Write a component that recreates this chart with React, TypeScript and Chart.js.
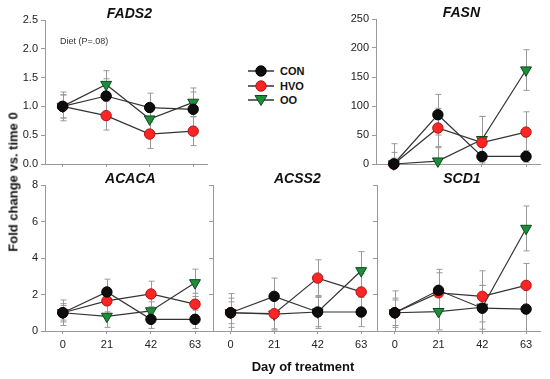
import React, { useEffect, useRef } from 'react';
import { Chart, registerables } from 'chart.js';
Chart.register(...registerables);

const FONT = '"Liberation Sans", Arial, Helvetica, sans-serif';

const days = [0, 21, 42, 63];
const dayLabels = ['0', '21', '42', '63'];
const seriesNames = ['CON', 'HVO', 'OO'];

// FADS2
const fads2Con = [1.0, 1.18, 0.98, 0.95];
const fads2Hvo = [1.0, 0.84, 0.52, 0.57];
const fads2Oo = [1.0, 1.38, 0.78, 1.07];
const fads2ConErr = [0.25, 0.3, 0.25, 0.3];
const fads2HvoErr = [0.2, 0.25, 0.25, 0.25];
const fads2OoErr = [0.2, 0.24, 0.2, 0.25];

// FASN
const fasnCon = [0, 85, 13, 13];
const fasnHvo = [0, 62, 37, 55];
const fasnOo = [0, 5, 42, 162];
const fasnConErr = [35, 35, 20, 10];
const fasnHvoErr = [20, 34, 45, 35];
const fasnOoErr = [10, 25, 40, 35];

// ACACA
const acacaCon = [1.0, 2.14, 0.64, 0.64];
const acacaHvo = [1.0, 1.65, 2.03, 1.47];
const acacaOo = [1.0, 0.8, 1.1, 2.64];
const acacaConErr = [0.7, 0.7, 0.5, 0.5];
const acacaHvoErr = [0.5, 0.6, 0.7, 0.6];
const acacaOoErr = [0.4, 0.6, 0.5, 0.75];

// ACSS2
const acss2Con = [1.0, 1.9, 1.04, 1.04];
const acss2Hvo = [1.0, 0.95, 2.9, 2.14];
const acss2Oo = [1.0, 0.92, 1.04, 3.3];
const acss2ConErr = [1.05, 1.0, 0.8, 0.8];
const acss2HvoErr = [0.8, 0.9, 1.0, 1.0];
const acss2OoErr = [0.6, 0.8, 0.9, 1.05];

// SCD1
const scd1Con = [1.0, 2.23, 1.25, 1.2];
const scd1Hvo = [1.0, 2.09, 1.9, 2.5];
const scd1Oo = [1.0, 1.06, 1.3, 5.62];
const scd1ConErr = [1.2, 1.15, 1.25, 1.2];
const scd1HvoErr = [0.8, 1.1, 1.4, 1.2];
const scd1OoErr = [0.7, 1.0, 1.2, 1.23];

const seriesStyles = [
  { fill: '#0d0d0d', stroke: '#000000', style: 'circle', radius: 5.2, rotation: 0 },
  { fill: '#fb2525', stroke: '#b01515', style: 'circle', radius: 5.2, rotation: 0 },
  { fill: '#1c8f3a', stroke: '#0d4a1c', style: 'triangle', radius: 6.3, rotation: 180 },
];

type Panel = {
  title: string;
  rect: { left: number; top: number; right: number; bottom: number };
  yMin: number;
  yMax: number;
  yStep: number;
  decimals: number;
  showY: boolean;
  showX: boolean;
  values: number[][];
  errors: number[][];
  note?: string;
};

const panels: Panel[] = [
  {
    title: 'FADS2', rect: { left: 45, top: 20, right: 209, bottom: 164 },
    yMin: 0, yMax: 2.5, yStep: 0.5, decimals: 1, showY: true, showX: false,
    values: [fads2Con, fads2Hvo, fads2Oo], errors: [fads2ConErr, fads2HvoErr, fads2OoErr],
    note: 'Diet (P=.08)',
  },
  {
    title: 'FASN', rect: { left: 376, top: 19, right: 542, bottom: 164 },
    yMin: 0, yMax: 250, yStep: 50, decimals: 0, showY: true, showX: false,
    values: [fasnCon, fasnHvo, fasnOo], errors: [fasnConErr, fasnHvoErr, fasnOoErr],
  },
  {
    title: 'ACACA', rect: { left: 45, top: 185, right: 211, bottom: 331 },
    yMin: 0, yMax: 8, yStep: 2, decimals: 0, showY: true, showX: true,
    values: [acacaCon, acacaHvo, acacaOo], errors: [acacaConErr, acacaHvoErr, acacaOoErr],
  },
  {
    title: 'ACSS2', rect: { left: 213, top: 185, right: 377, bottom: 331 },
    yMin: 0, yMax: 8, yStep: 2, decimals: 0, showY: false, showX: true,
    values: [acss2Con, acss2Hvo, acss2Oo], errors: [acss2ConErr, acss2HvoErr, acss2OoErr],
  },
  {
    title: 'SCD1', rect: { left: 377, top: 185, right: 542, bottom: 331 },
    yMin: 0, yMax: 8, yStep: 2, decimals: 0, showY: false, showX: true,
    values: [scd1Con, scd1Hvo, scd1Oo], errors: [scd1ConErr, scd1HvoErr, scd1OoErr],
  },
];

const PAD_L = 40, PAD_T = 20, PAD_R = 6, PAD_B = 25;

function PanelChart({ p }: { p: Panel }) {
  const ref = useRef<HTMLCanvasElement | null>(null);
  const W = p.rect.right - p.rect.left + PAD_L + PAD_R;
  const H = p.rect.bottom - p.rect.top + PAD_T + PAD_B;
  const yw = p.showY ? 30 : 6;
  const xh = p.showX ? 22 : 6;

  useEffect(() => {
    const canvas = ref.current;
    if (!canvas) return;
    const errPlugin = {
      id: 'errbars',
      beforeDatasetsDraw(chart: any) {
        const ctx = chart.ctx;
        const xs = chart.scales.x, ys = chart.scales.y;
        ctx.save();
        ctx.strokeStyle = '#999999';
        ctx.lineWidth = 1;
        p.values.forEach((vals, si) => {
          vals.forEach((v, i) => {
            const e = p.errors[si][i];
            const px = Math.round(xs.getPixelForValue(days[i])) + 0.5;
            const hi = ys.getPixelForValue(Math.min(v + e, p.yMax));
            const lo = ys.getPixelForValue(Math.max(v - e, p.yMin));
            ctx.beginPath();
            ctx.moveTo(px, hi); ctx.lineTo(px, lo);
            ctx.moveTo(px - 3, hi); ctx.lineTo(px + 3, hi);
            if (v - e > p.yMin) { ctx.moveTo(px - 3, lo); ctx.lineTo(px + 3, lo); }
            ctx.stroke();
          });
        });
        ctx.restore();
      },
      afterDraw(chart: any) {
        const ctx = chart.ctx;
        const a = chart.chartArea;
        ctx.save();
        ctx.fillStyle = '#111';
        ctx.font = `italic bold 14px ${FONT}`;
        ctx.textAlign = 'center';
        ctx.textBaseline = 'alphabetic';
        ctx.fillText(p.title, (a.left + a.right) / 2 + 3, a.top - 2);
        if (p.note) {
          ctx.font = `9px ${FONT}`;
          ctx.fillStyle = '#333';
          ctx.textAlign = 'left';
          ctx.textBaseline = 'middle';
          ctx.fillText(p.note, a.left + 15, a.top + 22);
        }
        ctx.restore();
      },
    };

    const chart = new Chart(canvas, {
      type: 'line',
      data: {
        datasets: p.values.map((vals, si) => ({
          label: seriesNames[si],
          data: vals.map((v, i) => ({ x: days[i], y: v })),
          borderColor: '#333333',
          borderWidth: 1.2,
          pointStyle: seriesStyles[si].style as any,
          pointRotation: seriesStyles[si].rotation,
          pointRadius: seriesStyles[si].radius,
          pointBackgroundColor: seriesStyles[si].fill,
          pointBorderColor: seriesStyles[si].stroke,
          pointBorderWidth: 1,
          tension: 0,
          clip: false as any,
        })),
      },
      options: {
        responsive: false,
        animation: false,
        maintainAspectRatio: false,
        layout: { padding: { left: PAD_L - yw, top: PAD_T, right: PAD_R, bottom: PAD_B - xh } },
        plugins: { legend: { display: false }, tooltip: { enabled: false }, title: { display: false } },
        scales: {
          x: {
            type: 'linear',
            min: -8.5,
            max: 70,
            afterBuildTicks: (s: any) => { s.ticks = days.map((d) => ({ value: d })); },
            afterFit: (s: any) => { s.height = xh; },
            grid: { display: true, drawOnChartArea: false, drawTicks: true, tickLength: 3, color: '#999' },
            border: { display: true, color: '#999', width: 1 },
            ticks: {
              display: p.showX,
              padding: 4,
              color: '#222',
              font: { family: FONT, size: 11 },
              callback: (_v: any, i: number) => dayLabels[i],
            },
          },
          y: {
            type: 'linear',
            min: p.yMin,
            max: p.yMax,
            afterFit: (s: any) => { s.width = yw; },
            grid: { display: true, drawOnChartArea: false, drawTicks: true, tickLength: 4, color: '#999' },
            border: { display: true, color: '#999', width: 1 },
            ticks: {
              display: p.showY,
              stepSize: p.yStep,
              padding: 3,
              color: '#222',
              font: { family: FONT, size: 11 },
              callback: (v: any) => Number(v).toFixed(p.decimals),
            },
          },
        },
      },
      plugins: [errPlugin],
    });
    return () => chart.destroy();
  }, []);

  return (
    <canvas
      ref={ref}
      width={W}
      height={H}
      style={{ position: 'absolute', left: p.rect.left - PAD_L, top: p.rect.top - PAD_T, width: W, height: H }}
    />
  );
}

function LegendMarker({ si }: { si: number }) {
  const s = seriesStyles[si];
  return (
    <svg width={28} height={14} style={{ position: 'absolute', left: 0, top: 0 }}>
      <line x1={1} y1={7} x2={27} y2={7} stroke="#333" strokeWidth={1.5} />
      {s.style === 'circle' ? (
        <circle cx={14} cy={7} r={5.2} fill={s.fill} stroke={s.stroke} strokeWidth={1} />
      ) : (
        <polygon points="8,2.5 20,2.5 14,12.5" fill={s.fill} stroke={s.stroke} strokeWidth={1} />
      )}
    </svg>
  );
}

export default function App() {
  return (
    <div style={{ position: 'absolute', left: 0, top: 0, width: 550, height: 379, background: '#fff', fontFamily: FONT }}>
      {panels.map((p) => (
        <PanelChart key={p.title} p={p} />
      ))}
      {seriesNames.map((n, si) => (
        <div key={n} style={{ position: 'absolute', left: 247, top: 64 + si * 14.5, height: 14, width: 70 }}>
          <LegendMarker si={si} />
          <span style={{ position: 'absolute', left: 33, top: 0, lineHeight: '14px', fontSize: 11, fontWeight: 'bold', color: '#111' }}>{n}</span>
        </div>
      ))}
      <div style={{ position: 'absolute', left: 13, top: 182, width: 0, height: 0 }}>
        <div
          style={{
            position: 'absolute', left: 0, top: 0, transform: 'translate(-50%, -50%) rotate(-90deg)',
            whiteSpace: 'nowrap', fontSize: 13, fontWeight: 'bold', color: '#111',
          }}
        >
          Fold change vs. time 0
        </div>
      </div>
      <div
        style={{
          position: 'absolute', left: 303, top: 366, transform: 'translate(-50%, -50%)',
          whiteSpace: 'nowrap', fontSize: 13, fontWeight: 'bold', color: '#111',
        }}
      >
        Day of treatment
      </div>
    </div>
  );
}
